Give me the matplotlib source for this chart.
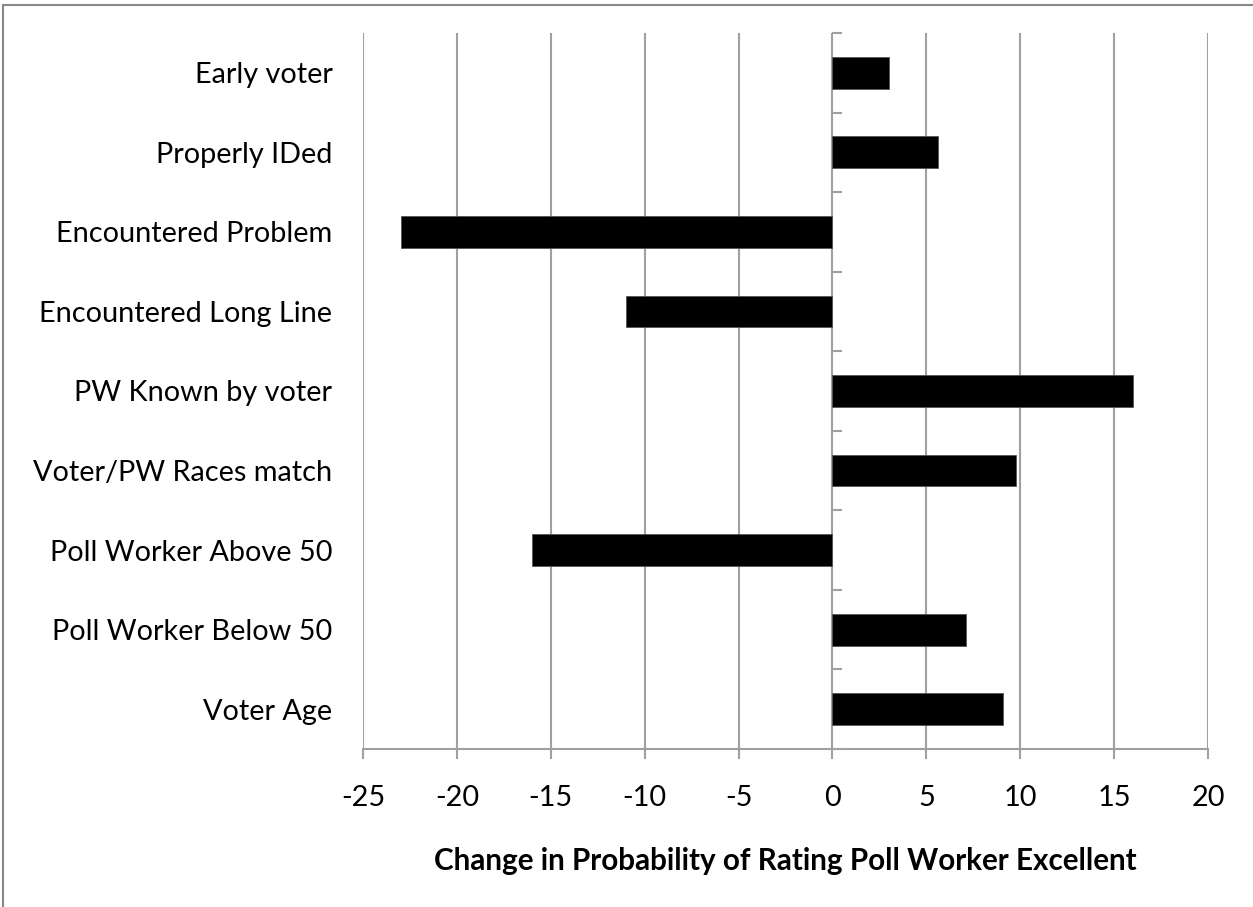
import matplotlib
matplotlib.use("Agg")
import matplotlib.pyplot as plt
import numpy as np
from matplotlib.patches import Rectangle

categories = ["Early voter", "Properly IDed", "Encountered Problem",
              "Encountered Long Line", "PW Known by voter", "Voter/PW Races match",
              "Poll Worker Above 50", "Poll Worker Below 50", "Voter Age"]
values = [3.0, 5.6, -23.0, -11.0, 16.0, 9.8, -16.0, 7.1, 9.1]
xticks = [-25, -20, -15, -10, -5, 0, 5, 10, 15, 20]
xlabel = "Change in Probability of Rating Poll Worker Excellent"

plt.rcParams['font.family'] = ['Lato', 'DejaVu Sans']
W, H = 1253, 907
fig = plt.figure(figsize=(W/100, H/100), dpi=100)
ax = fig.add_axes([363/W, 1-749/H, (1208-363)/W, (749-33)/H])

n = len(categories)
pos = np.arange(n)[::-1]
grid_c = '#a0a0a0'

ax.barh(pos, values, height=0.4, color='black', edgecolor='#555555', linewidth=0.6, zorder=3)
ax.set_xlim(xticks[0], xticks[-1])
ax.set_ylim(-0.5, n - 0.5)
ax.set_xticks(xticks)
ax.set_xticklabels([str(t) for t in xticks], fontsize=20.8)
ax.set_yticks(pos)
ax.set_yticklabels(categories, fontsize=20.8)
ax.tick_params(axis='y', length=0, pad=22)
ax.tick_params(axis='x', length=7, width=1.5, color=grid_c, direction='out', pad=19)
ax.xaxis.grid(True, color=grid_c, linewidth=1.5, zorder=0)
ax.set_axisbelow(True)
for s in ['top', 'right', 'left']:
    ax.spines[s].set_visible(False)
ax.spines['bottom'].set_color(grid_c)
ax.spines['bottom'].set_linewidth(1.5)

# vertical axis at zero with ticks at category boundaries
loc = (0 - xticks[0]) / (xticks[-1] - xticks[0])
sec = ax.secondary_yaxis(loc)
sec.set_yticks(np.arange(n + 1) - 0.5)
sec.set_yticklabels([])
sec.tick_params(length=7, width=1.5, color=grid_c, direction='out')
sec.spines['left'].set_color(grid_c)
sec.spines['left'].set_linewidth(1.5)
for s in ['top', 'right', 'bottom']:
    sec.spines[s].set_visible(False)

ax.set_xlabel(xlabel, fontsize=21.3, fontweight='bold', labelpad=26)

# chart border
fig.patches.append(Rectangle((3/W, -0.1), 1.2, 1 - 5/H + 0.1, transform=fig.transFigure,
                             fill=False, edgecolor='#888888', linewidth=1.5))

fig.savefig("out.png", dpi=100)
